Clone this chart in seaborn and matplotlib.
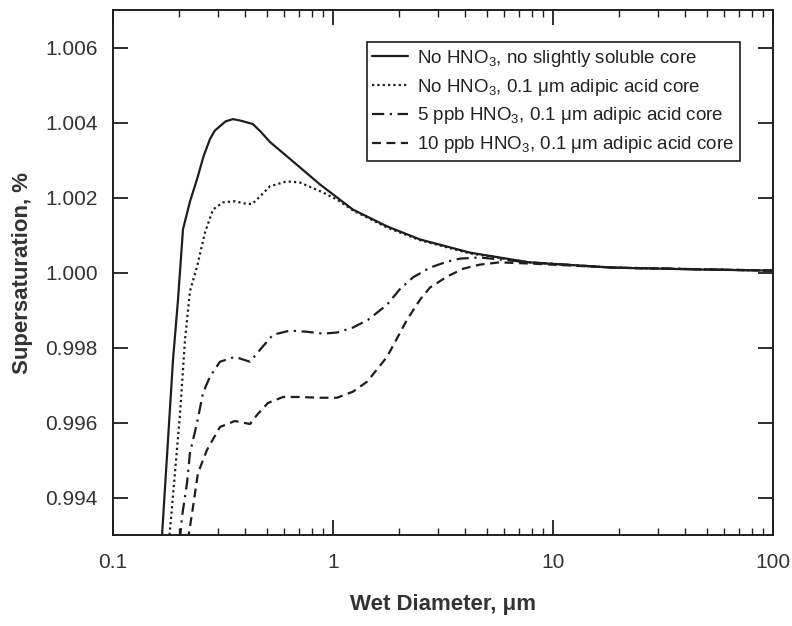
import numpy as np
import pandas as pd
import matplotlib
matplotlib.use("Agg")
import matplotlib.pyplot as plt
import seaborn as sns
from matplotlib.ticker import LogLocator, FixedLocator, FormatStrFormatter, NullFormatter

# --- data (wet diameter in um, supersaturation) ---
solid_d = [0.165, 0.1671, 0.1874, 0.1975, 0.208, 0.224, 0.241, 0.258, 0.276, 0.29, 0.306, 0.325,
           0.351, 0.38, 0.432, 0.47, 0.517, 0.617, 0.872, 1.23, 1.76, 2.49, 4.19, 7.8, 18.7, 46, 100]
solid_s = [0.9926, 0.9930, 0.99767, 0.99928, 1.00115, 1.0019, 1.00249, 1.0031, 1.00356, 1.00378, 1.0039, 1.00403,
           1.00409, 1.00405, 1.00396, 1.00375, 1.00348, 1.0031, 1.00235, 1.00168, 1.00123, 1.00088, 1.00053,
           1.00027, 1.00013, 1.00008, 1.00005]

dot_d = [0.1796, 0.1816, 0.2015, 0.2125, 0.2238, 0.241, 0.262, 0.285, 0.316, 0.358, 0.398,
         0.428, 0.466, 0.517, 0.617, 0.707, 0.872, 1.04, 1.23, 1.76, 2.49, 4.19, 7.8, 18.7, 100]
dot_s = [0.99286, 0.99313, 0.9962, 0.99821, 0.9995, 1.00016, 1.00107, 1.00168, 1.00187, 1.0019, 1.00184,
         1.00182, 1.00203, 1.0023, 1.00243, 1.0024, 1.00217, 1.00195, 1.00166, 1.0012, 1.00086, 1.00051,
         1.00027, 1.00013, 1.00005]

dashdot_d = [0.2015, 0.2058, 0.2169, 0.2238, 0.241, 0.2566, 0.2757, 0.3063, 0.358, 0.4195, 0.466,
             0.5335, 0.637, 0.7605, 0.901, 1.043, 1.23, 1.445, 1.76, 2.01, 2.31, 2.76, 3.3, 3.78,
             4.65, 7.8, 18.7, 100]
dashdot_s = [0.99286, 0.99348, 0.99438, 0.99519, 0.99599, 0.99679, 0.99722, 0.99762, 0.99775, 0.99762, 0.99794,
             0.99834, 0.99845, 0.99842, 0.99837, 0.9984, 0.99853, 0.99874, 0.99914, 0.99955, 0.99987, 1.00013,
             1.00029, 1.00037, 1.0004, 1.00027, 1.00013, 1.00005]

dash_d = [0.219, 0.2309, 0.2433, 0.2675, 0.3063, 0.358, 0.4195, 0.451, 0.506, 0.592, 0.707, 0.872,
          1.043, 1.23, 1.43, 1.76, 2.17, 2.49, 2.76, 3.3, 3.9, 4.65, 5.7, 7.8, 18.7, 100]
dash_s = [0.99286, 0.99374, 0.99465, 0.99527, 0.99588, 0.99604, 0.99596, 0.9962, 0.99652, 0.99668, 0.99668,
          0.99666, 0.99666, 0.99682, 0.99709, 0.99775, 0.99874, 0.99928, 0.9996, 0.99989, 1.0001, 1.00021,
          1.00027, 1.00024, 1.00013, 1.00005]

labels = [r"No HNO$_3$, no slightly soluble core",
          r"No HNO$_3$, 0.1 μm adipic acid core",
          r"5 ppb HNO$_3$, 0.1 μm adipic acid core",
          r"10 ppb HNO$_3$, 0.1 μm adipic acid core"]

sns.set_style("ticks")
plt.rcParams['font.family'] = ['Liberation Sans', 'DejaVu Sans']
plt.rcParams['mathtext.fontset'] = 'custom'
plt.rcParams['mathtext.rm'] = 'Liberation Sans'
plt.rcParams['mathtext.default'] = 'regular'

ink = '#1e1e1e'
fig = plt.figure(figsize=(7.92, 6.26), dpi=100)
ax = fig.add_axes([113/792, 1 - 535/626, 660/792, 525/626])

series = [(solid_d, solid_s, '-'),
          (dot_d, dot_s, (0, (1, 1.4))),
          (dashdot_d, dashdot_s, (0, (5.5, 2.5, 1, 2.5))),
          (dash_d, dash_s, (0, (4, 2.5)))]
for (d, s, ls), lab in zip(series, labels):
    df = pd.DataFrame({'d': d, 's': s})
    sns.lineplot(data=df, x='d', y='s', ax=ax, color=ink, lw=1.6, linestyle=ls,
                 sort=False, estimator=None, label=lab)

ax.set_xscale('log')
ax.set_xlim(0.1, 100)
ax.set_ylim(0.993, 1.007)
ax.yaxis.set_major_locator(FixedLocator([0.994, 0.996, 0.998, 1.000, 1.002, 1.004, 1.006]))
ax.yaxis.set_major_formatter(FormatStrFormatter('%.3f'))
ax.xaxis.set_major_locator(FixedLocator([0.1, 1, 10, 100]))
ax.xaxis.set_major_formatter(FormatStrFormatter('%g'))
ax.xaxis.set_minor_locator(LogLocator(base=10, subs=np.arange(2, 10)))
ax.xaxis.set_minor_formatter(NullFormatter())

ax.tick_params(axis='both', which='major', direction='in', length=11, width=1.3,
               color=ink, labelsize=15, labelcolor='#333333', top=True, right=True)
ax.tick_params(axis='x', which='major', pad=13)
ax.tick_params(axis='y', which='major', pad=11)
ax.tick_params(axis='x', which='minor', direction='in', length=5, width=1.0,
               color=ink, top=True)
for sp in ax.spines.values():
    sp.set_linewidth(1.4)
    sp.set_color(ink)

ax.set_xlabel('Wet Diameter, μm', fontsize=16, fontweight='bold', color='#333333', labelpad=16)
ax.set_ylabel('Supersaturation, %', fontsize=16, fontweight='bold', color='#333333', labelpad=9)

leg = ax.legend(loc='upper right', bbox_to_anchor=(0.95, 0.939), borderaxespad=0,
                fontsize=13.5, frameon=True, fancybox=False, framealpha=1,
                edgecolor=ink, handlelength=1.9, handletextpad=0.5, labelspacing=0.42,
                borderpad=0.3)
leg.get_frame().set_linewidth(1.2)
for t in leg.get_texts():
    t.set_color('#222222')

fig.savefig('out.png', dpi=100)
